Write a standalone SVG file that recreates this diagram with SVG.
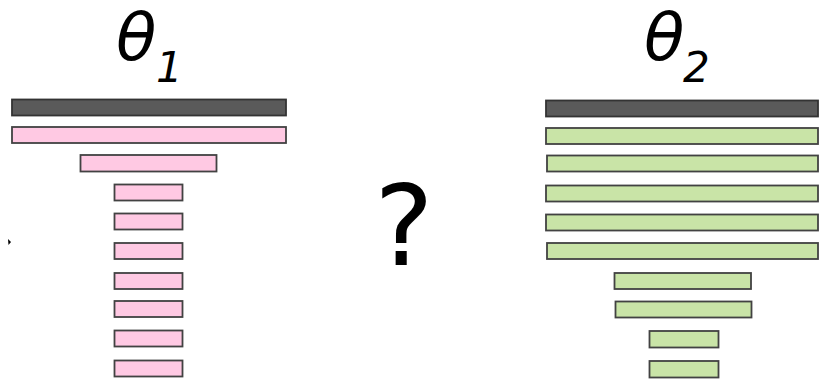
<svg xmlns="http://www.w3.org/2000/svg" width="819" height="380" viewBox="0 0 819 380">
  <style>
    .bar { stroke: #424242; stroke-width: 1.8; }
    .top { fill: #5a5a5a; stroke: #333333; }
    .pink { fill: #ffc9e3; }
    .green { fill: #c9e4a7; }
    .lbl { font-family: "DejaVu Sans", sans-serif; font-style: italic; fill: #000000; }
  </style>

  <!-- left stack: theta 1 -->
  <g id="theta1">
    <text class="lbl" x="116" y="60" font-size="66">θ</text>
    <text class="lbl" x="156" y="82" font-size="42">1</text>
  </g>
  <g id="stack1">
    <rect class="bar top" x="12" y="99.5" width="274" height="16"/>
    <rect class="bar pink" x="12" y="127" width="274" height="16"/>
    <rect class="bar pink" x="80.5" y="155" width="136" height="16.5"/>
    <rect class="bar pink" x="114.5" y="184.5" width="68" height="16"/>
    <rect class="bar pink" x="114.5" y="213.5" width="68" height="16"/>
    <rect class="bar pink" x="114.5" y="243" width="68" height="16"/>
    <rect class="bar pink" x="114.5" y="273" width="68" height="16"/>
    <rect class="bar pink" x="114.5" y="301" width="68" height="16"/>
    <rect class="bar pink" x="114.5" y="330.5" width="68" height="16"/>
    <rect class="bar pink" x="114.5" y="360.5" width="68" height="16"/>
  </g>
  <path d="M8 239 L11 242 L8.5 245 Z" fill="#000000"/>

  <!-- question mark -->
  <g id="question">
    <text x="404" y="265" font-size="112" text-anchor="middle" font-family="DejaVu Sans, sans-serif" fill="#000000">?</text>
  </g>

  <!-- right stack: theta 2 -->
  <g id="theta2">
    <text class="lbl" x="644" y="60" font-size="66">θ</text>
    <text class="lbl" x="683" y="82" font-size="42">2</text>
  </g>
  <g id="stack2">
    <rect class="bar top" x="546" y="100.5" width="272" height="16"/>
    <rect class="bar green" x="546" y="128" width="272" height="16"/>
    <rect class="bar green" x="547" y="155.5" width="271" height="16"/>
    <rect class="bar green" x="546" y="185.5" width="272" height="16"/>
    <rect class="bar green" x="546" y="214.5" width="272" height="16"/>
    <rect class="bar green" x="547" y="243" width="271" height="16"/>
    <rect class="bar green" x="614.5" y="273" width="136.5" height="16"/>
    <rect class="bar green" x="615.5" y="301.5" width="136" height="16"/>
    <rect class="bar green" x="649.5" y="331" width="69" height="16.5"/>
    <rect class="bar green" x="649.5" y="361" width="69" height="16.5"/>
  </g>
</svg>
